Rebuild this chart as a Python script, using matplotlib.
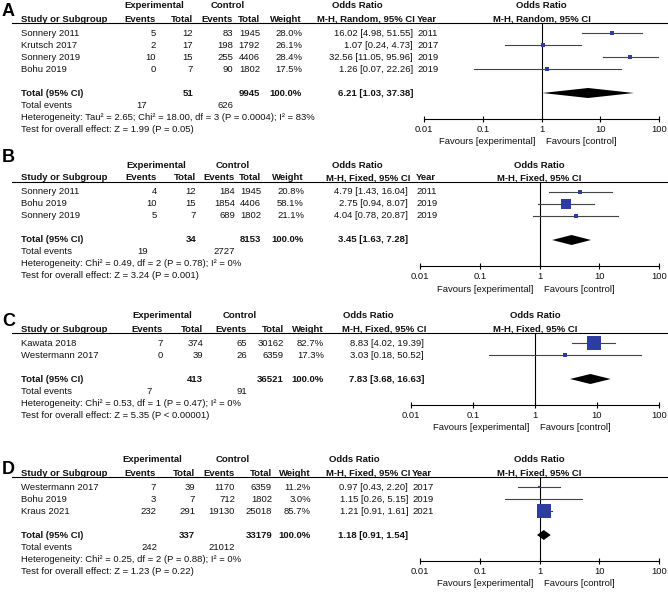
import matplotlib
matplotlib.use("Agg")
import matplotlib.pyplot as plt
from matplotlib.ticker import NullLocator

plt.rcParams["font.family"] = ["Liberation Sans", "DejaVu Sans"]

W, H = 668, 593
FS = 6.8
ROW = 12
TXT = "#111111"
CI_C = "#444444"
BOX_C = "#2d3ca0"
TICKS = [0.01, 0.1, 1, 10, 100]
TICK_LABELS = ["0.01", "0.1", "1", "10", "100"]

# ---- A
A_STUDY = ["Sonnery 2011", "Krutsch 2017", "Sonnery 2019", "Bohu 2019"]
A_EXP_EV = [5, 2, 10, 0]
A_EXP_N = [12, 17, 15, 7]
A_CTL_EV = [83, 198, 255, 90]
A_CTL_N = [1945, 1792, 4406, 1802]
A_WT = [28.0, 26.1, 28.4, 17.5]
A_OR = [16.02, 1.07, 32.56, 1.26]
A_LO = [4.98, 0.24, 11.05, 0.07]
A_HI = [51.55, 4.73, 95.96, 22.26]
A_YEAR = [2011, 2017, 2019, 2019]
A_TOTAL = [51, 9945]
A_EVENTS = [17, 626]
A_POOLED = [6.21, 1.03, 37.38]
A_HET = "Heterogeneity: Tau² = 2.65; Chi² = 18.00, df = 3 (P = 0.0004); I² = 83%"
A_TEST = "Test for overall effect: Z = 1.99 (P = 0.05)"

# ---- B
B_STUDY = ["Sonnery 2011", "Bohu 2019", "Sonnery 2019"]
B_EXP_EV = [4, 10, 5]
B_EXP_N = [12, 15, 7]
B_CTL_EV = [184, 1854, 689]
B_CTL_N = [1945, 4406, 1802]
B_WT = [20.8, 58.1, 21.1]
B_OR = [4.79, 2.75, 4.04]
B_LO = [1.43, 0.94, 0.78]
B_HI = [16.04, 8.07, 20.87]
B_YEAR = [2011, 2019, 2019]
B_TOTAL = [34, 8153]
B_EVENTS = [19, 2727]
B_POOLED = [3.45, 1.63, 7.28]
B_HET = "Heterogeneity: Chi² = 0.49, df = 2 (P = 0.78); I² = 0%"
B_TEST = "Test for overall effect: Z = 3.24 (P = 0.001)"

# ---- C
C_STUDY = ["Kawata 2018", "Westermann 2017"]
C_EXP_EV = [7, 0]
C_EXP_N = [374, 39]
C_CTL_EV = [65, 26]
C_CTL_N = [30162, 6359]
C_WT = [82.7, 17.3]
C_OR = [8.83, 3.03]
C_LO = [4.02, 0.18]
C_HI = [19.39, 50.52]
C_YEAR = None
C_TOTAL = [413, 36521]
C_EVENTS = [7, 91]
C_POOLED = [7.83, 3.68, 16.63]
C_HET = "Heterogeneity: Chi² = 0.53, df = 1 (P = 0.47); I² = 0%"
C_TEST = "Test for overall effect: Z = 5.35 (P < 0.00001)"

# ---- D
D_STUDY = ["Westermann 2017", "Bohu 2019", "Kraus 2021"]
D_EXP_EV = [7, 3, 232]
D_EXP_N = [39, 7, 291]
D_CTL_EV = [1170, 712, 19130]
D_CTL_N = [6359, 1802, 25018]
D_WT = [11.2, 3.0, 85.7]
D_OR = [0.97, 1.15, 1.21]
D_LO = [0.43, 0.26, 0.91]
D_HI = [2.20, 5.15, 1.61]
D_YEAR = [2017, 2019, 2021]
D_TOTAL = [337, 33179]
D_EVENTS = [242, 21012]
D_POOLED = [1.18, 0.91, 1.54]
D_HET = "Heterogeneity: Chi² = 0.25, df = 2 (P = 0.88); I² = 0%"
D_TEST = "Test for overall effect: Z = 1.23 (P = 0.22)"

PANELS = [
    dict(label="A", method="M-H, Random, 95% CI", study=A_STUDY, ee=A_EXP_EV, en=A_EXP_N,
         ce=A_CTL_EV, cn=A_CTL_N, wt=A_WT, odds=A_OR, lo=A_LO, hi=A_HI, year=A_YEAR,
         total=A_TOTAL, events=A_EVENTS, pooled=A_POOLED, het=A_HET, test=A_TEST),
    dict(label="B", method="M-H, Fixed, 95% CI", study=B_STUDY, ee=B_EXP_EV, en=B_EXP_N,
         ce=B_CTL_EV, cn=B_CTL_N, wt=B_WT, odds=B_OR, lo=B_LO, hi=B_HI, year=B_YEAR,
         total=B_TOTAL, events=B_EVENTS, pooled=B_POOLED, het=B_HET, test=B_TEST),
    dict(label="C", method="M-H, Fixed, 95% CI", study=C_STUDY, ee=C_EXP_EV, en=C_EXP_N,
         ce=C_CTL_EV, cn=C_CTL_N, wt=C_WT, odds=C_OR, lo=C_LO, hi=C_HI, year=C_YEAR,
         total=C_TOTAL, events=C_EVENTS, pooled=C_POOLED, het=C_HET, test=C_TEST),
    dict(label="D", method="M-H, Fixed, 95% CI", study=D_STUDY, ee=D_EXP_EV, en=D_EXP_N,
         ce=D_CTL_EV, cn=D_CTL_N, wt=D_WT, odds=D_OR, lo=D_LO, hi=D_HI, year=D_YEAR,
         total=D_TOTAL, events=D_EVENTS, pooled=D_POOLED, het=D_HET, test=D_TEST),
]

# pixel layout of each panel (column right edges, header centres, forest axis span)
LAYOUT = {
    "A": dict(top=6, label_y=12, ev_e=156, tot_e=193, ev_c=233, tot_c=260, wt=302, orx=413,
              year=417, exp_c=154, ctl_c=228, or_c=357, te_e=147, ax0=424, ax1=659),
    "B": dict(top=165, label_y=158, ev_e=157, tot_e=196, ev_c=235, tot_c=261, wt=304, orx=408,
              year=416, exp_c=156, ctl_c=233, or_c=357, te_e=148, ax0=420, ax1=659),
    "C": dict(top=316, label_y=321, ev_e=163, tot_e=203, ev_c=247, tot_c=284, wt=324, orx=424,
              year=None, exp_c=162, ctl_c=240, or_c=368, te_e=152, ax0=411, ax1=659),
    "D": dict(top=460, label_y=469, ev_e=156, tot_e=195, ev_c=235, tot_c=272, wt=311, orx=408,
              year=412, exp_c=152, ctl_c=233, or_c=354, te_e=157, ax0=420, ax1=659),
}


def ci_text(o, lo, hi):
    return f"{o:.2f} [{lo:.2f}, {hi:.2f}]"


def draw_panel(fig, bg, p, L):
    top = L["top"]
    ul = top + 17
    n = len(p["study"])
    rows = [ul + 10 + ROW * i for i in range(n)]
    y_tot = rows[-1] + 2 * ROW
    y_ax = ul + ROW * n + 48
    xm = (L["ax0"] + L["ax1"]) / 2

    norm = dict(fontsize=FS, va="center", color=TXT)
    bold = dict(fontsize=FS, va="center", color=TXT, fontweight="bold")

    bg.text(2, L["label_y"], p["label"], fontsize=13, fontweight="bold", ha="left", va="center")

    # headers
    bg.text(L["exp_c"], top, "Experimental", ha="center", **bold)
    bg.text(L["ctl_c"], top, "Control", ha="center", **bold)
    bg.text(L["or_c"], top, "Odds Ratio", ha="center", **bold)
    bg.text(xm, top, "Odds Ratio", ha="center", **bold)
    h2 = top + 13
    bg.text(21, h2, "Study or Subgroup", ha="left", **bold)
    for key, s in [("ev_e", "Events"), ("tot_e", "Total"), ("ev_c", "Events"),
                   ("tot_c", "Total"), ("wt", "Weight")]:
        bg.text(L[key], h2, s, ha="right", **bold)
    bg.text(L["orx"] + 2, h2, p["method"], ha="right", **bold)
    if p["year"]:
        bg.text(L["year"], h2, "Year", ha="left", **bold)
    bg.text(xm, h2, p["method"], ha="center", **bold)
    bg.plot([12, 667], [ul, ul], color="black", lw=0.8)

    # study rows
    for i, y in enumerate(rows):
        bg.text(21, y, p["study"][i], ha="left", **norm)
        bg.text(L["ev_e"], y, str(p["ee"][i]), ha="right", **norm)
        bg.text(L["tot_e"], y, str(p["en"][i]), ha="right", **norm)
        bg.text(L["ev_c"], y, str(p["ce"][i]), ha="right", **norm)
        bg.text(L["tot_c"], y, str(p["cn"][i]), ha="right", **norm)
        bg.text(L["wt"], y, f"{p['wt'][i]:.1f}%", ha="right", **norm)
        bg.text(L["orx"], y, ci_text(p["odds"][i], p["lo"][i], p["hi"][i]), ha="right", **norm)
        if p["year"]:
            bg.text(L["year"], y, str(p["year"][i]), ha="left", **norm)

    # totals
    bg.text(21, y_tot, "Total (95% CI)", ha="left", **bold)
    bg.text(L["tot_e"], y_tot, str(p["total"][0]), ha="right", **bold)
    bg.text(L["tot_c"], y_tot, str(p["total"][1]), ha="right", **bold)
    bg.text(L["wt"], y_tot, "100.0%", ha="right", **bold)
    bg.text(L["orx"], y_tot, ci_text(*p["pooled"]), ha="right", **bold)
    bg.text(21, y_tot + ROW, "Total events", ha="left", **norm)
    bg.text(L["te_e"], y_tot + ROW, str(p["events"][0]), ha="right", **norm)
    bg.text(L["ev_c"], y_tot + ROW, str(p["events"][1]), ha="right", **norm)
    bg.text(21, y_tot + 2 * ROW, p["het"], ha="left", **norm)
    bg.text(21, y_tot + 3 * ROW, p["test"], ha="left", **norm)

    # forest plot
    fa = fig.add_axes([L["ax0"] / W, 1 - y_ax / H, (L["ax1"] - L["ax0"]) / W, (y_ax - ul) / H])
    fa.patch.set_visible(False)
    fa.set_xscale("log")
    fa.set_xlim(0.01, 100)
    fa.set_ylim(y_ax, ul)
    for s in ["top", "left", "right"]:
        fa.spines[s].set_visible(False)
    fa.spines["bottom"].set_linewidth(0.8)
    fa.set_yticks([])
    fa.set_xticks(TICKS)
    fa.set_xticklabels(TICK_LABELS)
    fa.xaxis.set_minor_locator(NullLocator())
    fa.tick_params(axis="x", direction="inout", length=5, width=0.8, pad=1.8,
                   labelsize=FS, labelcolor=TXT)
    fa.axvline(1, color="black", lw=0.8)
    for y, o, lo, hi, w in zip(rows, p["odds"], p["lo"], p["hi"], p["wt"]):
        fa.plot([lo, hi], [y, y], color=CI_C, lw=0.8, clip_on=False)
        side = (0.15 * w + 0.6) * 0.72
        fa.plot([o], [y], marker="s", ms=side, color=BOX_C, mew=0, ls="none", clip_on=False)
    po, pl, ph = p["pooled"]
    fa.fill([pl, po, ph, po], [y_tot, y_tot - 5, y_tot, y_tot + 5], color="black", lw=0,
            clip_on=False)

    bg.text(xm - 6, y_ax + 23, "Favours [experimental]", ha="right", **norm)
    bg.text(xm + 5, y_ax + 23, "Favours [control]", ha="left", **norm)


fig = plt.figure(figsize=(W / 100, H / 100), dpi=100)
bg = fig.add_axes([0, 0, 1, 1])
bg.set_xlim(0, W)
bg.set_ylim(H, 0)
bg.axis("off")

for p in PANELS:
    draw_panel(fig, bg, p, LAYOUT[p["label"]])

fig.savefig("out.png", dpi=100)
